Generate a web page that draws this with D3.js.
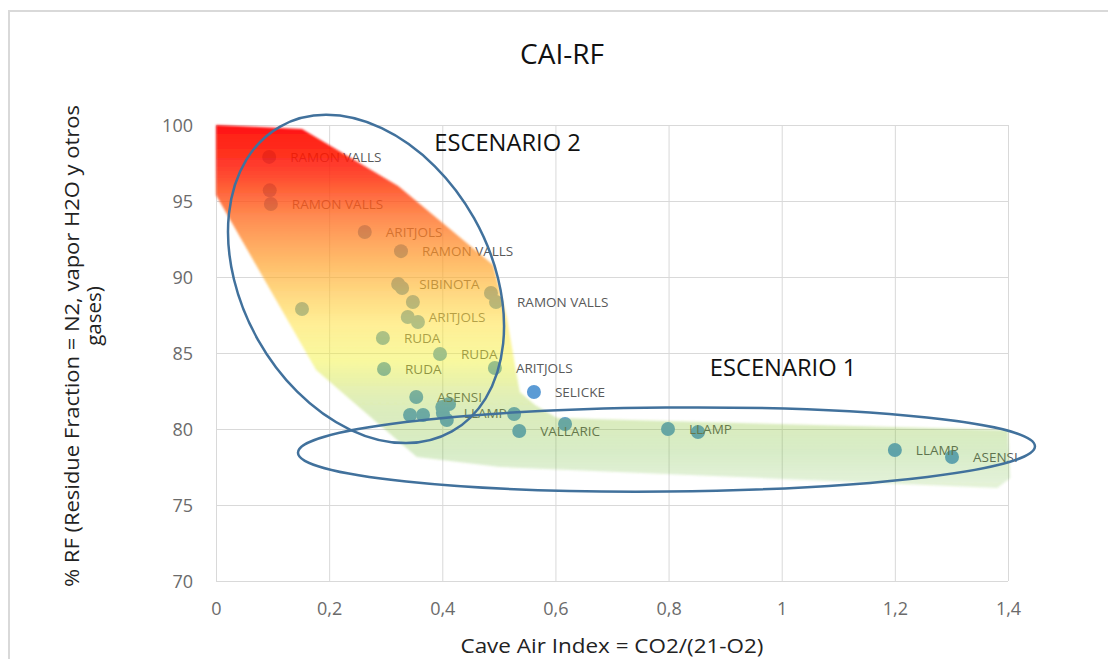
<!DOCTYPE html>
<html><head><meta charset="utf-8">
<script src="https://cdn.jsdelivr.net/npm/d3@7"></script>
<style>
body{margin:0;background:#fff;overflow:hidden}
text{font-family:'Open Sans','Noto Sans',sans-serif}
</style>
</head><body>
<svg id="c" width="1108" height="659"></svg>
<script>
// ---------------- data ----------------
const chartTitle = "CAI-RF";
const xTitle = "Cave Air Index = CO2/(21-O2)";
const yTitleLines = ["% RF (Residue Fraction = N2, vapor H2O y otros", "gases)"];
const xTicks = [0, 0.2, 0.4, 0.6, 0.8, 1, 1.2, 1.4];
const xTickLabels = ["0", "0,2", "0,4", "0,6", "0,8", "1", "1,2", "1,4"];
const yTicks = [70, 75, 80, 85, 90, 95, 100];
const yTickLabels = ["70", "75", "80", "85", "90", "95", "100"];

// CAI (x) and RF % (y) for each sample, with its data label
const cai = [0.094, 0.095, 0.097, 0.263, 0.327, 0.322, 0.329, 0.348, 0.486, 0.495,
             0.152, 0.339, 0.357, 0.295, 0.396, 0.297, 0.493, 0.562, 0.354, 0.343,
             0.366, 0.400, 0.412, 0.401, 0.408, 0.527, 0.536, 0.617, 0.799, 0.852,
             1.200, 1.301];
const rf  = [97.9, 95.7, 94.8, 92.96, 91.7, 89.54, 89.28, 88.36, 88.95, 88.36,
             87.89, 87.37, 87.04, 85.99, 84.93, 83.95, 84.01, 82.43, 82.11, 80.92,
             80.92, 81.45, 81.64, 81.05, 80.59, 80.99, 79.87, 80.33, 80.0, 79.8,
             78.62, 78.16];
const site = ["RAMON VALLS", "", "RAMON VALLS", "ARITJOLS", "RAMON VALLS", "SIBINOTA", "", "", "", "RAMON VALLS",
              "", "ARITJOLS", "", "RUDA", "RUDA", "RUDA", "ARITJOLS", "SELICKE", "ASENSI", "",
              "", "", "", "LLAMP", "", "", "VALLARIC", "", "LLAMP", "",
              "LLAMP", "ASENSI"];

// gradient zone outline (data units)
const zoneX = [0, 0.152, 0.322, 0.490, 0.514, 0.530, 0.537, 0.564, 0.603, 1.400, 1.404, 1.381, 0.502, 0.355, 0.177, 0];
const zoneY = [100, 99.74, 95.99, 90.79, 87.37, 83.88, 82.43, 81.58, 80.72, 79.93, 76.78, 76.12, 77.50, 78.16, 83.88, 95.39];

// scenario ellipses (centre and semi-axes in data units, tilt in degrees)
const scenarioNames = ["ESCENARIO 2", "ESCENARIO 1"];
const scenarioCx = [0.2652, 0.7963];
const scenarioCy = [89.87, 78.65];
const scenarioRx = [0.2192, 0.6514];
const scenarioRy = [11.51, 2.763];
const scenarioTilt = [-29.4, -0.5];
const scenarioLabelX = [0.386, 0.873];
const scenarioLabelY = [98.3, 83.5];

// ---------------- drawing ----------------
const svg = d3.select('#c');
const L = 216, R = 1008, T = 125, B = 581;
const x = d3.scaleLinear().domain([0, 1.4]).range([L, R]);
const y = d3.scaleLinear().domain([70, 100]).range([B, T]);

// chart frame
svg.append('rect').attr('x', 9).attr('y', 11).attr('width', 1200).attr('height', 800)
  .attr('fill', '#fff').attr('stroke', '#d9d9d9').attr('stroke-width', 2);

// axes + gridlines
const gx = svg.append('g').attr('transform', `translate(0,${B})`)
  .call(d3.axisBottom(x).tickValues(xTicks).tickSize(-(B - T)).tickFormat((d, i) => xTickLabels[i]));
const gy = svg.append('g').attr('transform', `translate(${L},0)`)
  .call(d3.axisLeft(y).tickValues(yTicks).tickSize(-(R - L)).tickFormat((d, i) => yTickLabels[i]));
[gx, gy].forEach(g => {
  g.select('.domain').remove();
  g.selectAll('line').attr('stroke', '#d9d9d9').attr('stroke-width', 1);
  g.selectAll('text').attr('fill', '#6b6b6b').style('font-size', '18px').style('font-family', "'Open Sans',sans-serif");
});
gx.selectAll('text').attr('y', 33.5).attr('dy', 0);
gy.selectAll('text').attr('x', -23).attr('dy', '0.36em');

// points
const idx = d3.range(cai.length);
svg.append('g').selectAll('circle').data(idx).join('circle')
  .attr('cx', i => x(cai[i])).attr('cy', i => y(rf[i])).attr('r', 7)
  .attr('fill', '#5b9bd5');

// data labels
svg.append('g').selectAll('text').data(idx.filter(i => site[i])).join('text')
  .attr('x', i => x(cai[i]) + 21).attr('y', i => y(rf[i])).attr('dy', '0.36em')
  .attr('fill', '#595959').style('font-size', '13.5px').text(i => site[i]);

// gradient zone overlay (drawn on top, semi-transparent)
const defs = svg.append('defs');
const grad = defs.append('linearGradient').attr('id', 'zoneGrad')
  .attr('gradientUnits', 'userSpaceOnUse')
  .attr('x1', 0).attr('x2', 0).attr('y1', y(d3.max(zoneY))).attr('y2', y(d3.min(zoneY)));
const stops = [
  [0.00, 'rgb(255,0,0)', 0.92],
  [0.12, 'rgb(255,35,10)', 0.87],
  [0.25, 'rgb(255,105,30)', 0.78],
  [0.40, 'rgb(255,165,40)', 0.66],
  [0.55, 'rgb(255,225,60)', 0.54],
  [0.65, 'rgb(240,240,40)', 0.44],
  [0.78, 'rgb(150,200,50)', 0.33],
  [0.90, 'rgb(110,185,50)', 0.27],
  [1.00, 'rgb(110,185,50)', 0.18]
];
grad.selectAll('stop').data(stops).join('stop')
  .attr('offset', d => d[0]).attr('stop-color', d => d[1]).attr('stop-opacity', d => d[2]);
defs.append('filter').attr('id', 'soft').attr('x', '-5%').attr('y', '-5%').attr('width', '110%').attr('height', '110%')
  .append('feGaussianBlur').attr('stdDeviation', 1.2);
const zoneLine = d3.line().x(i => x(zoneX[i])).y(i => y(zoneY[i])).curve(d3.curveLinearClosed);
svg.append('path').attr('d', zoneLine(d3.range(zoneX.length)))
  .attr('fill', 'url(#zoneGrad)').attr('filter', 'url(#soft)');

// scenario ellipses
const sIdx = d3.range(scenarioNames.length);
svg.append('g').selectAll('ellipse').data(sIdx).join('ellipse')
  .attr('transform', i => `translate(${x(scenarioCx[i])},${y(scenarioCy[i])}) rotate(${scenarioTilt[i]})`)
  .attr('rx', i => x(scenarioRx[i]) - x(0))
  .attr('ry', i => y(70) - y(70 + scenarioRy[i]))
  .attr('fill', 'none').attr('stroke', '#41719c').attr('stroke-width', 2.5);

svg.append('g').selectAll('text').data(sIdx).join('text')
  .attr('x', i => x(scenarioLabelX[i])).attr('y', i => y(scenarioLabelY[i]))
  .attr('fill', '#111').style('font-size', '23.7px').text(i => scenarioNames[i]);

// title
svg.append('text').attr('x', 562).attr('y', 64).attr('text-anchor', 'middle')
  .attr('fill', '#111').style('font-size', '28px').text(chartTitle);

// axis titles
svg.append('text').attr('x', (L + R) / 2).attr('y', 653).attr('text-anchor', 'middle')
  .attr('fill', '#222').style('font-size', '19.5px').attr('textLength', 303).attr('lengthAdjust', 'spacingAndGlyphs')
  .text(xTitle);
svg.append('text').attr('transform', 'translate(79,346) rotate(-90)').attr('text-anchor', 'middle')
  .attr('fill', '#222').style('font-size', '20.5px').attr('textLength', 482).attr('lengthAdjust', 'spacingAndGlyphs')
  .text(yTitleLines[0]);
svg.append('text').attr('transform', 'translate(101,316) rotate(-90)').attr('text-anchor', 'middle')
  .attr('fill', '#222').style('font-size', '20.5px').text(yTitleLines[1]);
</script>
</body></html>
